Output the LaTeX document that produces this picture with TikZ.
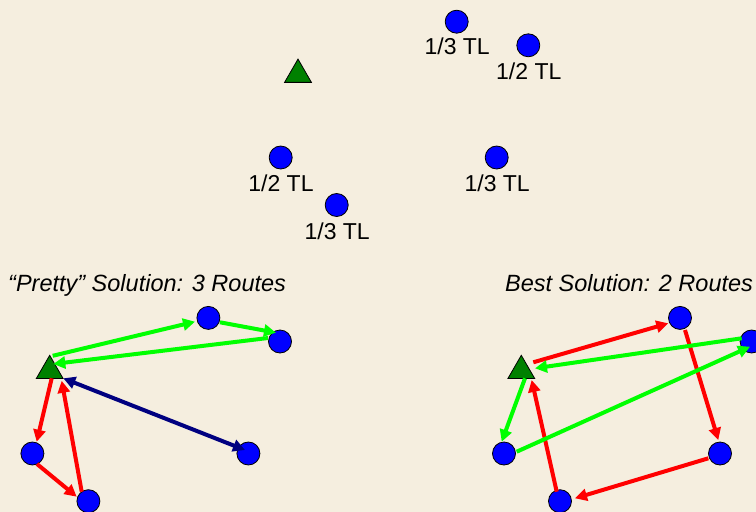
\documentclass[tikz,border=0pt]{standalone}
\usepackage{fontspec}
\setmainfont{Liberation Sans}
\usetikzlibrary{arrows.meta,shapes.geometric}
\definecolor{bgc}{HTML}{F5EEDF}
\definecolor{siteblue}{HTML}{0000FF}
\definecolor{depotgreen}{HTML}{008000}
\definecolor{rgreen}{HTML}{00FF00}
\definecolor{rred}{HTML}{FF0000}
\definecolor{rnavy}{HTML}{000080}
\tikzset{
  site/.style={circle,fill=siteblue,draw=black,line width=0.8pt,minimum size=23pt,inner sep=0pt},
  depot/.style={regular polygon,regular polygon sides=3,fill=depotgreen,draw=black,line width=0.8pt,minimum size=31pt,inner sep=0pt},
  lbl/.style={anchor=base,inner sep=0pt,font=\fontsize{23}{27}\selectfont},
  ttl/.style={anchor=base west,inner sep=0pt,font=\fontsize{23.5}{28}\selectfont\itshape},
  routebase/.style={line width=4pt},
  garrow/.style={routebase,draw=rgreen,-{Triangle[length=12pt,width=12pt]}},
  rarrow/.style={routebase,draw=rred,-{Triangle[length=12pt,width=12pt]}},
  narrow/.style={routebase,draw=rnavy,{Triangle[length=12pt,width=12pt]}-{Triangle[length=12pt,width=12pt]}}
}
\begin{document}
\begin{tikzpicture}[x=1pt,y=-1pt]
\fill[bgc] (0,0) rectangle (756,512);
\useasboundingbox (0,0) rectangle (756,512);
% top problem
\node[depot] (T) at (298,74.6) {};
\node[site] (A) at (456.7,21.7) {};
\node[site] (B) at (528.3,45.3) {};
\node[site] (C) at (280.7,157.5) {};
\node[site] (D) at (336.7,205) {};
\node[site] (E) at (496.7,157.5) {};
\node[lbl] (la) at (457.2,54.2) {1/3 TL};
\node[lbl] (lb) at (528.8,79) {1/2 TL};
\node[lbl] (lc) at (281,191.5) {1/2 TL};
\node[lbl] (ld) at (337.2,239) {1/3 TL};
\node[lbl] (le) at (497.2,191.5) {1/3 TL};
% titles
\node[ttl] (t1) at (8,291.7) {“Pretty” Solution: 3 Routes};
\node[ttl] (t2) at (505,291.7) {Best Solution: 2 Routes};
% left solution
\node[depot] (LT) at (49.7,370.8) {};
\node[site] (LA) at (208.4,317.9) {};
\node[site] (LB) at (280,341.5) {};
\node[site] (LC) at (32.4,453.5) {};
\node[site] (LD) at (88.4,501.2) {};
\node[site] (LE) at (248.4,453.5) {};
\draw[garrow] ([shift={(3,-15)}]LT.center) -- ([shift={(-13.4,3.8)}]LA.center);
\draw[garrow] ([shift={(11.6,4.4)}]LA.center) -- ([shift={(-4,-8.8)}]LB.center);
\draw[garrow] ([shift={(-12,-3.5)}]LB.center) -- ([shift={(3.6,-6.8)}]LT.center);
\draw[rarrow] ([shift={(2,7.5)}]LT.center) -- ([shift={(4.3,-11.8)}]LC.center);
\draw[rarrow] ([shift={(4.6,10.5)}]LC.center) -- ([shift={(-11.7,-4.5)}]LD.center);
\draw[rarrow] ([shift={(-6.7,-9.5)}]LD.center) -- ([shift={(12,10)}]LT.center);
\draw[narrow] ([shift={(13.6,7.5)}]LT.center) -- ([shift={(-3.4,-3.5)}]LE.center);
% right solution
\node[depot] (RT) at (521.3,370.8) {};
\node[site] (RA) at (680,317.9) {};
\node[site] (RB) at (751.6,341.5) {};
\node[site] (RC) at (504,453.5) {};
\node[site] (RD) at (560,501.2) {};
\node[site] (RE) at (720,453.5) {};
\draw[rarrow] ([shift={(12,-8.5)}]RT.center) -- ([shift={(-11.7,5.4)}]RA.center);
\draw[rarrow] ([shift={(5,12.1)}]RA.center) -- ([shift={(-1.7,-13.5)}]RE.center);
\draw[rarrow] ([shift={(-11.7,4.8)}]RE.center) -- ([shift={(15,-2.9)}]RD.center);
\draw[rarrow] ([shift={(-3.3,-9.5)}]RD.center) -- ([shift={(10.4,9.2)}]RT.center);
\draw[garrow] ([shift={(3.7,7.5)}]RT.center) -- ([shift={(-2.3,-11.8)}]RC.center);
\draw[garrow] ([shift={(12.7,-1.8)}]RC.center) -- ([shift={(-1.6,5.2)}]RB.center);
\draw[garrow] ([shift={(-9.9,-3.2)}]RB.center) -- ([shift={(13.7,-2.5)}]RT.center);
\end{tikzpicture}
\end{document}
